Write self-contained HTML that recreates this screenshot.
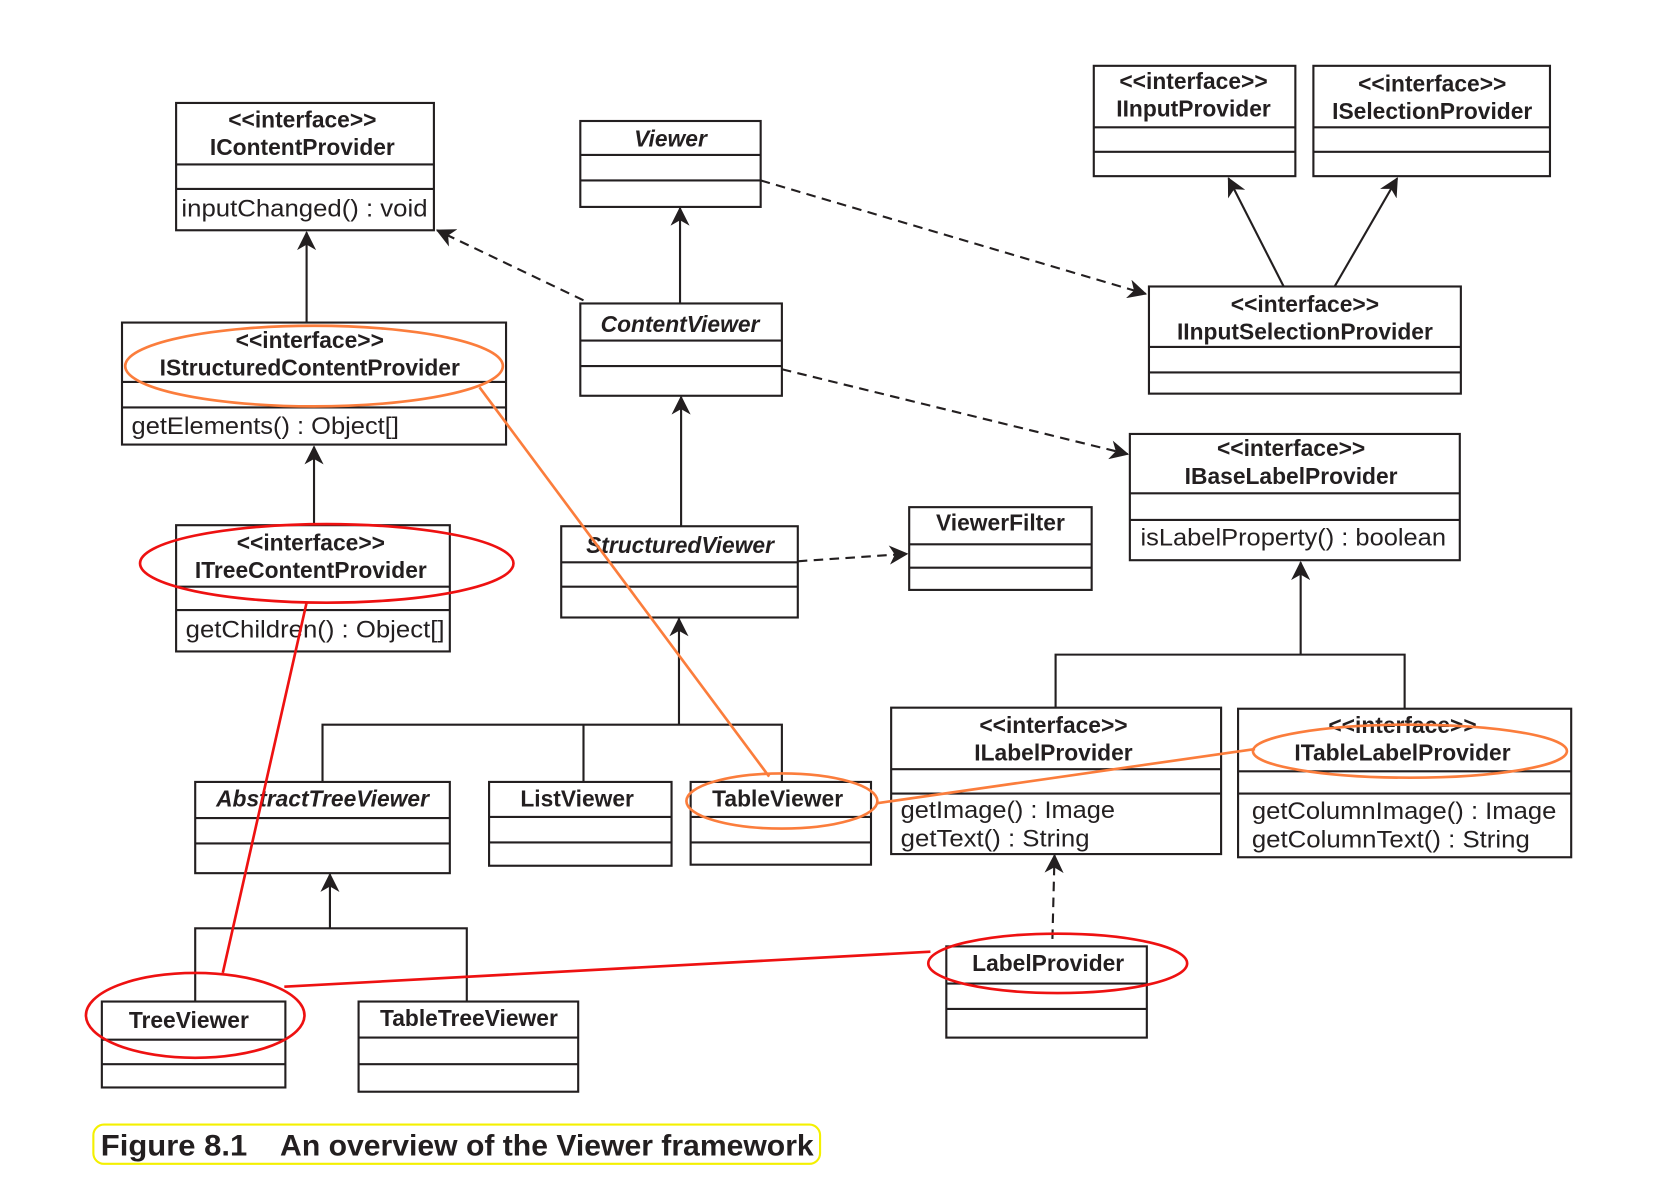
<!DOCTYPE html>
<html><head><meta charset="utf-8"><style>
html,body{margin:0;padding:0;background:#fff;}
svg{display:block;}
text{font-family:"Liberation Sans",sans-serif;fill:#231f20;}
.b{font-weight:bold;font-size:21.5px;text-anchor:middle;}
.bi{font-weight:bold;font-style:italic;font-size:21.5px;text-anchor:middle;}
.m{font-size:23px;}
.box{fill:none;stroke:#231f20;stroke-width:2;}
.ln{stroke:#231f20;stroke-width:2;fill:none;}
.ds{stroke:#231f20;stroke-width:2;fill:none;stroke-dasharray:9,6;}
.or{stroke:#fb7d3c;stroke-width:2.5;fill:none;}
.rd{stroke:#ee1111;stroke-width:2.5;fill:none;}
</style></head><body>
<svg width="1655" height="1183" viewBox="0 0 1560 1115" xmlns="http://www.w3.org/2000/svg">
<defs>
<marker id="a" viewBox="0 0 14 14" refX="13" refY="7" markerWidth="18" markerHeight="18" markerUnits="userSpaceOnUse" orient="auto">
<path d="M0,0 L14,7 L0,14 L4,7 Z" fill="#231f20"/></marker>
</defs>

<rect class="box" x="166" y="97" width="243" height="120"/>
<line class="ln" x1="166" y1="155" x2="409" y2="155"/><line class="ln" x1="166" y1="178" x2="409" y2="178"/>
<text class="b" x="285" y="120">&lt;&lt;interface&gt;&gt;</text>
<text class="b" x="285" y="146">IContentProvider</text>
<text class="m" x="171" y="204" textLength="232" lengthAdjust="spacingAndGlyphs">inputChanged() : void</text>

<rect class="box" x="115" y="304" width="362" height="115"/>
<line class="ln" x1="115" y1="360" x2="477" y2="360"/><line class="ln" x1="115" y1="384" x2="477" y2="384"/>
<text class="b" x="292" y="328">&lt;&lt;interface&gt;&gt;</text>
<text class="b" x="292" y="354">IStructuredContentProvider</text>
<text class="m" x="124" y="409" textLength="252" lengthAdjust="spacingAndGlyphs">getElements() : Object[]</text>

<rect class="box" x="166" y="495" width="258" height="119"/>
<line class="ln" x1="166" y1="553" x2="424" y2="553"/><line class="ln" x1="166" y1="575" x2="424" y2="575"/>
<text class="b" x="293" y="519">&lt;&lt;interface&gt;&gt;</text>
<text class="b" x="293" y="545">ITreeContentProvider</text>
<text class="m" x="175" y="601" textLength="244" lengthAdjust="spacingAndGlyphs">getChildren() : Object[]</text>

<rect class="box" x="547" y="114" width="170" height="81"/>
<line class="ln" x1="547" y1="146" x2="717" y2="146"/><line class="ln" x1="547" y1="170" x2="717" y2="170"/>
<text class="bi" x="632" y="138">Viewer</text>

<rect class="box" x="547" y="286" width="190" height="87"/>
<line class="ln" x1="547" y1="321" x2="737" y2="321"/><line class="ln" x1="547" y1="345" x2="737" y2="345"/>
<text class="bi" x="641" y="313">ContentViewer</text>

<rect class="box" x="529" y="496" width="223" height="86"/>
<line class="ln" x1="529" y1="530" x2="752" y2="530"/><line class="ln" x1="529" y1="553" x2="752" y2="553"/>
<text class="bi" x="641" y="521">StructuredViewer</text>

<rect class="box" x="857" y="478" width="172" height="78"/>
<line class="ln" x1="857" y1="513" x2="1029" y2="513"/><line class="ln" x1="857" y1="535" x2="1029" y2="535"/>
<text class="b" x="943" y="500">ViewerFilter</text>

<rect class="box" x="1031" y="62" width="190" height="104"/>
<line class="ln" x1="1031" y1="120" x2="1221" y2="120"/><line class="ln" x1="1031" y1="143" x2="1221" y2="143"/>
<text class="b" x="1125" y="84">&lt;&lt;interface&gt;&gt;</text>
<text class="b" x="1125" y="110">IInputProvider</text>

<rect class="box" x="1238" y="62" width="223" height="104"/>
<line class="ln" x1="1238" y1="120" x2="1461" y2="120"/><line class="ln" x1="1238" y1="143" x2="1461" y2="143"/>
<text class="b" x="1350" y="86">&lt;&lt;interface&gt;&gt;</text>
<text class="b" x="1350" y="112">ISelectionProvider</text>

<rect class="box" x="1083" y="270" width="294" height="101"/>
<line class="ln" x1="1083" y1="327" x2="1377" y2="327"/><line class="ln" x1="1083" y1="351" x2="1377" y2="351"/>
<text class="b" x="1230" y="294">&lt;&lt;interface&gt;&gt;</text>
<text class="b" x="1230" y="320">IInputSelectionProvider</text>

<rect class="box" x="1065" y="409" width="311" height="119"/>
<line class="ln" x1="1065" y1="465" x2="1376" y2="465"/><line class="ln" x1="1065" y1="490" x2="1376" y2="490"/>
<text class="b" x="1217" y="430">&lt;&lt;interface&gt;&gt;</text>
<text class="b" x="1217" y="456">IBaseLabelProvider</text>
<text class="m" x="1075" y="514" textLength="288" lengthAdjust="spacingAndGlyphs">isLabelProperty() : boolean</text>

<rect class="box" x="840" y="667" width="311" height="138"/>
<line class="ln" x1="840" y1="725" x2="1151" y2="725"/><line class="ln" x1="840" y1="748" x2="1151" y2="748"/>
<text class="b" x="993" y="691">&lt;&lt;interface&gt;&gt;</text>
<text class="b" x="993" y="717">ILabelProvider</text>
<text class="m" x="849" y="771" textLength="202" lengthAdjust="spacingAndGlyphs">getImage() : Image</text>
<text class="m" x="849" y="798" textLength="178" lengthAdjust="spacingAndGlyphs">getText() : String</text>

<rect class="box" x="1167" y="668" width="314" height="140"/>
<line class="ln" x1="1167" y1="727" x2="1481" y2="727"/><line class="ln" x1="1167" y1="748" x2="1481" y2="748"/>
<text class="b" x="1322" y="691">&lt;&lt;interface&gt;&gt;</text>
<text class="b" x="1322" y="717">ITableLabelProvider</text>
<text class="m" x="1180" y="772" textLength="287" lengthAdjust="spacingAndGlyphs">getColumnImage() : Image</text>
<text class="m" x="1180" y="799" textLength="262" lengthAdjust="spacingAndGlyphs">getColumnText() : String</text>

<rect class="box" x="184" y="737" width="240" height="86"/>
<line class="ln" x1="184" y1="771" x2="424" y2="771"/><line class="ln" x1="184" y1="795" x2="424" y2="795"/>
<text class="bi" x="304" y="760">AbstractTreeViewer</text>

<rect class="box" x="461" y="737" width="172" height="79"/>
<line class="ln" x1="461" y1="770" x2="633" y2="770"/><line class="ln" x1="461" y1="794" x2="633" y2="794"/>
<text class="b" x="544" y="760">ListViewer</text>

<rect class="box" x="651" y="737" width="170" height="78"/>
<line class="ln" x1="651" y1="770" x2="821" y2="770"/><line class="ln" x1="651" y1="794" x2="821" y2="794"/>
<text class="b" x="733" y="760">TableViewer</text>

<rect class="box" x="96" y="944" width="173" height="81"/>
<line class="ln" x1="96" y1="980" x2="269" y2="980"/><line class="ln" x1="96" y1="1003" x2="269" y2="1003"/>
<text class="b" x="178" y="969">TreeViewer</text>

<rect class="box" x="338" y="944" width="207" height="85"/>
<line class="ln" x1="338" y1="978" x2="545" y2="978"/><line class="ln" x1="338" y1="1003" x2="545" y2="1003"/>
<text class="b" x="442" y="967">TableTreeViewer</text>

<rect class="box" x="892" y="892" width="189" height="86"/>
<line class="ln" x1="892" y1="927" x2="1081" y2="927"/><line class="ln" x1="892" y1="951" x2="1081" y2="951"/>
<text class="b" x="988" y="915">LabelProvider</text>

<line class="ln" x1="289" y1="304" x2="289" y2="219" marker-end="url(#a)"/>
<line class="ln" x1="296" y1="495" x2="296" y2="421" marker-end="url(#a)"/>
<line class="ln" x1="641" y1="286" x2="641" y2="196" marker-end="url(#a)"/>
<line class="ln" x1="642" y1="496" x2="642" y2="374" marker-end="url(#a)"/>
<line class="ln" x1="640" y1="683" x2="640" y2="583" marker-end="url(#a)"/>
<polyline class="ln" points="304,737 304,683 737,683 737,737"/>
<line class="ln" x1="550" y1="683" x2="550" y2="737"/>
<polyline class="ln" points="184,944 184,875 440,875 440,944"/>
<line class="ln" x1="311" y1="875" x2="311" y2="824" marker-end="url(#a)"/>
<line class="ln" x1="1226" y1="617" x2="1226" y2="530" marker-end="url(#a)"/>
<polyline class="ln" points="995,667 995,617 1324,617 1324,668"/>
<line class="ln" x1="1210" y1="270" x2="1158" y2="168" marker-end="url(#a)"/>
<line class="ln" x1="1258" y1="270" x2="1317" y2="168" marker-end="url(#a)"/>

<line class="ds" x1="550" y1="283" x2="412" y2="217" marker-end="url(#a)"/>
<line class="ds" x1="717" y1="170" x2="1080" y2="277" marker-end="url(#a)"/>
<line class="ds" x1="737" y1="348" x2="1063" y2="428" marker-end="url(#a)"/>
<line class="ds" x1="752" y1="529" x2="855" y2="522" marker-end="url(#a)"/>
<line class="ds" x1="992" y1="885" x2="994" y2="806" marker-end="url(#a)"/>

<ellipse class="or" cx="296" cy="345" rx="178" ry="38"/>
<ellipse class="rd" cx="308" cy="531" rx="176" ry="37"/>
<ellipse class="or" cx="737" cy="755" rx="90" ry="26"/>
<ellipse class="or" cx="1329" cy="708" rx="148" ry="25"/>
<ellipse class="rd" cx="184" cy="957" rx="103" ry="40"/>
<ellipse class="rd" cx="997" cy="908" rx="122" ry="28"/>
<line class="or" x1="452" y1="365" x2="725" y2="732"/>
<line class="or" x1="827" y1="757" x2="1183" y2="706"/>
<line class="rd" x1="289" y1="568" x2="210" y2="917"/>
<line class="rd" x1="268" y1="930" x2="877" y2="897"/>

<rect x="88" y="1060" width="685" height="37" rx="10" fill="none" stroke="#f4f000" stroke-width="2"/>
<text x="95" y="1089" textLength="138" lengthAdjust="spacingAndGlyphs" style="font-weight:bold;font-size:28px;">Figure 8.1</text>
<text x="264" y="1089" textLength="503" lengthAdjust="spacingAndGlyphs" style="font-weight:bold;font-size:28px;">An overview of the Viewer framework</text>
</svg>
</body></html>
